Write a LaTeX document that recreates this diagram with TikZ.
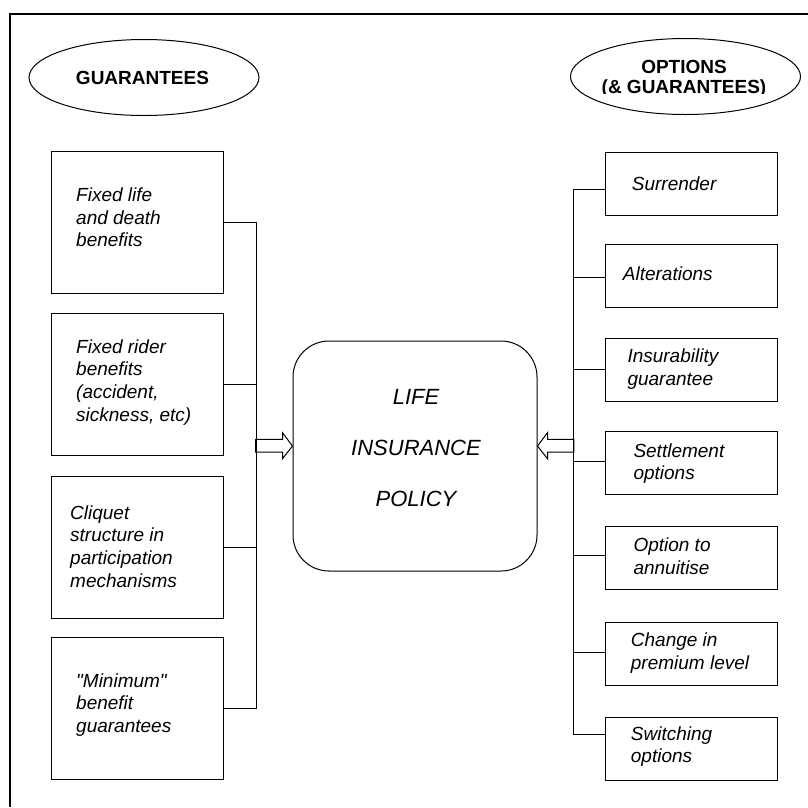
\documentclass[tikz,border=0pt]{standalone}
\usepackage{fontspec}
\setmainfont{Liberation Sans}
\usetikzlibrary{shapes.geometric}

\begin{document}
\begin{tikzpicture}[x=1pt, y=-1pt,
    gbox/.style={draw, line width=1pt, minimum width=172pt, minimum height=142pt, inner sep=0pt},
    obox/.style={draw, line width=1pt, minimum width=172pt, minimum height=63pt, inner sep=0pt},
    boxtext/.style={anchor=west, align=left, inner sep=0pt, font=\fontsize{19}{22.7}\selectfont\itshape},
    head/.style={draw, ellipse, line width=1pt, minimum width=230pt, minimum height=76pt, inner sep=0pt},
    headtext/.style={align=center, inner sep=0pt, font=\fontsize{19}{20}\selectfont\bfseries},
    policybox/.style={draw, line width=1pt, rounded corners=36pt, minimum width=244pt, minimum height=230pt},
    link/.style={line width=1pt},
    hollow/.style={draw, line width=1pt, fill=white}]
    \useasboundingbox (0,0) rectangle (808,807);
    % frame
    \draw[line width=1.6pt] (808,14) -- (10,14) -- (10,807);

    % headers
    \node[head] (guar) at (144,77.5) {};
    \node[headtext] (guartxt) at (142.5,78.3) {GUARANTEES};
    \node[head] (opt) at (685.5,76.5) {};
    \begin{scope}
        \clip (570,40) rectangle (800,93);
        \node[headtext] (opttxt) at (684,79) {OPTIONS\\(\& GUARANTEES)};
    \end{scope}

    % policy
    \node[policybox] (policy) at (415,456) {};
    \node[align=center, inner sep=0pt, font=\fontsize{22}{51}\selectfont\itshape] (policytxt) at (416,448) {LIFE\\INSURANCE\\POLICY};

    % guarantees
    \coordinate (lbus) at (256,0);
    \foreach \n/\y/\tx/\ty/\txt in {
        1/222/76/217.5/{Fixed life\\and death\\benefits},
        2/384.5/76/382.3/{Fixed rider\\benefits\\(accident,\\sickness, etc)},
        3/547.5/70/546.5/{Cliquet\\structure in\\participation\\mechanisms},
        4/708.5/76/705/{\textquotedbl Minimum\textquotedbl\\benefit\\guarantees}} {
        \node[gbox] (g\n) at (137,\y) {};
        \node[boxtext] (g\n txt) at (\tx,\ty) {\txt};
        \draw[link] (g\n.east) -- (g\n.east -| lbus);
    }
    \coordinate (ltip) at (policy.west |- 0,446);
    \draw[hollow] (ltip) -- ++(-10,-13.3) -- ++(0,6.7) -- ++(-27,0) -- ++(0,12.6) -- ++(27,0) -- ++(0,6.7) -- cycle;
    \draw[link] (g1.east -| lbus) -- (g4.east -| lbus);

    % options
    \coordinate (rbus) at (573.3,0);
    \foreach \n/\y/\sy/\tx/\ty/\txt in {
        1/183.7/189/631.7/183.3/{Surrender},
        2/275.8/277.3/622.7/273.3/{Alterations},
        3/369.7/369.3/627.3/369.2/{Insurability\\guarantee},
        4/463.4/461.7/633.3/463.5/{Settlement\\options},
        5/558.4/555/633.3/556.5/{Option to\\annuitise},
        6/654.4/652.3/630.7/652.8/{Change in\\premium level},
        7/749.2/734/630.7/746.7/{Switching\\options}} {
        \node[obox] (o\n) at (691.6,\y) {};
        \node[boxtext] (o\n txt) at (\tx,\ty) {\txt};
        \coordinate (ob\n) at (rbus |- 0,\sy);
        \draw[link] (ob\n) -- (ob\n -| o\n.west);
    }
    \coordinate (rtip) at (policy.east |- 0,446);
    \draw[hollow] (rtip) -- ++(10,-13.3) -- ++(0,6.7) -- ++(26.3,0) -- ++(0,12.6) -- ++(-26.3,0) -- ++(0,6.7) -- cycle;
    \draw[link] (ob1) -- (ob7);
\end{tikzpicture}
\end{document}
